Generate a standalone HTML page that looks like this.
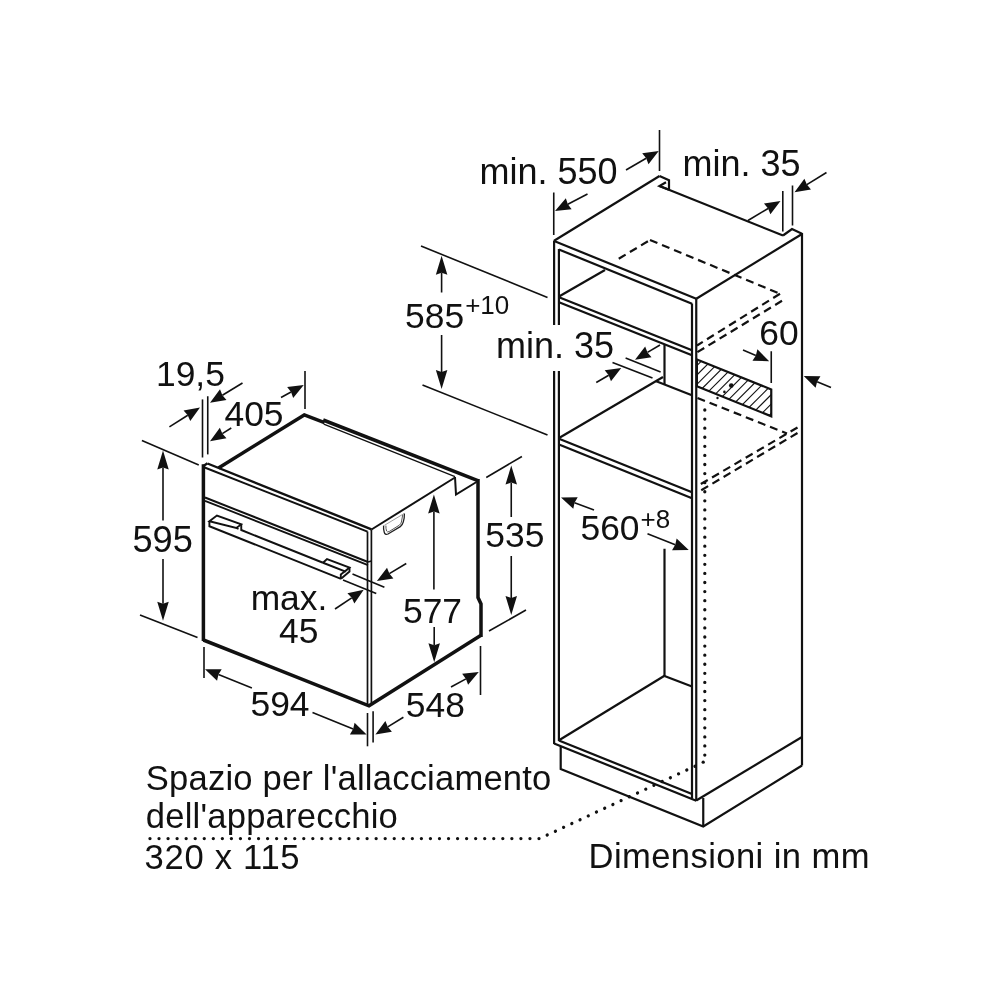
<!DOCTYPE html>
<html><head><meta charset="utf-8"><title>Dimensioni in mm</title>
<style>
html,body{margin:0;padding:0;background:#fff;}
body{width:1000px;height:1000px;overflow:hidden;}
svg{display:block;will-change:transform;}
svg text{font-family:"Liberation Sans",Arial,Helvetica,sans-serif;fill:#111;stroke:none;}
</style></head><body>
<svg width="1000" height="1000" viewBox="0 0 1000 1000" stroke="#111" fill="none" stroke-linecap="butt" stroke-linejoin="miter">
<rect x="0" y="0" width="1000" height="1000" fill="#fff" stroke="none"/>
<line x1="203.4" y1="464.3" x2="203.4" y2="641" stroke-width="3.5" />
<path d="M203.4 640 L369 705.8 L481 635.3" stroke-width="3.5" fill="none" />
<path d="M203.4 466 L207.5 463.3" stroke-width="2.4" fill="none" />
<line x1="207.5" y1="463.5" x2="371.5" y2="529.4" stroke-width="2.4" />
<line x1="204" y1="467.3" x2="367.5" y2="531.6" stroke-width="2.0" />
<line x1="367.5" y1="531.5" x2="367.5" y2="705" stroke-width="1.7" />
<line x1="371.4" y1="529.5" x2="371.4" y2="705" stroke-width="1.7" />
<line x1="218.5" y1="468" x2="305" y2="414.5" stroke-width="3.5" />
<line x1="303.6" y1="414.6" x2="324.5" y2="422.6" stroke-width="3.5" />
<line x1="323.2" y1="420" x2="478.5" y2="480.8" stroke-width="3.5" />
<line x1="323.75" y1="424.2" x2="455" y2="476.7" stroke-width="1.3" />
<line x1="371.5" y1="529.5" x2="455" y2="477.5" stroke-width="2.0" />
<path d="M455 477 L456 494.5 L476.5 482" stroke-width="2.0" fill="none" />
<path d="M478 479 L478 597.5 L481 604 L481 637" stroke-width="3.5" fill="none" />
<line x1="205" y1="497.5" x2="368" y2="562" stroke-width="2.0" />
<line x1="205" y1="500.8" x2="368" y2="565.2" stroke-width="1.8" />
<line x1="368" y1="562" x2="371.5" y2="561" stroke-width="1.6" />
<path d="M209.4 521.25 L216.9 515.6 L241.25 524.4 L236.25 528 Z" stroke-width="1.9" fill="none" />
<path d="M209.4 521.25 L209.4 526.25 L341 578.8" stroke-width="1.9" fill="none" />
<path d="M241.25 524.4 L241.25 530 L323 562.75" stroke-width="1.9" fill="none" />
<line x1="236.25" y1="528" x2="238.5" y2="529" stroke-width="1.9" />
<path d="M323 562.75 L327 559 L349.5 567.5 L345 571.3 L323 562.75" stroke-width="1.9" fill="none" />
<path d="M349.5 567.5 L349.5 571.5 L341 578.8" stroke-width="1.9" fill="none" />
<path d="M345 571.3 L340.8 574.5 L340.8 578.5" stroke-width="1.9" fill="none" />
<path d="M383.6 525.6 Q383.3 528.5 384.2 532 Q385 535.4 388 534 L400.3 526.6 Q402.4 525.3 403.2 522.2 Q404.6 517.5 404.4 513.5" stroke="#222" stroke-width="1.3" fill="none"/>
<path d="M385.9 525.6 Q385.8 529 386.6 531 Q387.3 532.6 389.2 531.5 L399.3 525.2 Q400.9 524.1 401.4 522 L402.7 515" stroke="#444" stroke-width="0.9" fill="none"/>
<path d="M384.3 525.4 L404 513.6" stroke="#888" stroke-width="0.8" fill="none"/>
<line x1="141.9" y1="440.6" x2="198.75" y2="465" stroke-width="1.6" />
<line x1="140" y1="615" x2="197.5" y2="637.5" stroke-width="1.6" />
<line x1="163" y1="520.5" x2="163.0" y2="467.6" stroke-width="1.6" />
<polygon points="163,450.6 168.75,469.6 163.0,467.6 157.25,469.6" fill="#111" stroke="none"/>
<line x1="163" y1="559" x2="163.0" y2="603.8" stroke-width="1.6" />
<polygon points="163,620.8 157.25,601.8 163.0,603.8 168.75,601.8" fill="#111" stroke="none"/>
<text x="162.6" y="552" font-size="36.2" text-anchor="middle" >595</text>
<line x1="202.5" y1="399.4" x2="202.5" y2="457.5" stroke-width="1.6" />
<line x1="207.75" y1="396.25" x2="207.75" y2="454.4" stroke-width="1.6" />
<line x1="169.4" y1="426.9" x2="187.75" y2="415.26" stroke-width="1.6" />
<polygon points="200,407.5 190.26,421.08 187.75,415.26 183.56,410.52" fill="#111" stroke="none"/>
<line x1="242.5" y1="383" x2="222.39" y2="395.22" stroke-width="1.6" />
<polygon points="210,402.75 220.0,389.36 222.39,395.22 226.49,400.04" fill="#111" stroke="none"/>
<text x="190.4" y="386" font-size="35.4" text-anchor="middle" >19,5</text>
<line x1="231.25" y1="428" x2="222.3" y2="433.58" stroke-width="1.6" />
<polygon points="210,441.25 219.85,427.75 222.3,433.58 226.46,438.35" fill="#111" stroke="none"/>
<line x1="281" y1="397.5" x2="291.04" y2="391.98" stroke-width="1.6" />
<polygon points="303.75,385 293.18,397.94 291.04,391.98 287.16,386.99" fill="#111" stroke="none"/>
<line x1="305" y1="371" x2="305" y2="409" stroke-width="1.6" />
<text x="254" y="426" font-size="35.4" text-anchor="middle" >405</text>
<line x1="204" y1="647" x2="204" y2="678" stroke-width="1.6" />
<line x1="251.9" y1="688" x2="218.46" y2="674.6" stroke-width="1.6" />
<polygon points="205,669.2 221.71,669.17 218.46,674.6 217.06,680.77" fill="#111" stroke="none"/>
<line x1="312.5" y1="712.5" x2="353.16" y2="728.96" stroke-width="1.6" />
<polygon points="366.6,734.4 349.89,734.38 353.16,728.96 354.58,722.79" fill="#111" stroke="none"/>
<text x="280" y="716" font-size="35.4" text-anchor="middle" >594</text>
<line x1="367.5" y1="713" x2="367.5" y2="746.3" stroke-width="1.6" />
<line x1="373.1" y1="711.3" x2="373.1" y2="742.5" stroke-width="1.6" />
<line x1="403.4" y1="717.3" x2="387.77" y2="726.84" stroke-width="1.6" />
<polygon points="375.4,734.4 385.37,720.99 387.77,726.84 391.89,731.66" fill="#111" stroke="none"/>
<line x1="451" y1="687" x2="465.99" y2="678.89" stroke-width="1.6" />
<polygon points="478.75,672 468.09,684.87 465.99,678.89 462.14,673.87" fill="#111" stroke="none"/>
<line x1="480.5" y1="646" x2="480.5" y2="695" stroke-width="1.6" />
<text x="435.3" y="716.8" font-size="35.4" text-anchor="middle" >548</text>
<line x1="433.9" y1="589.5" x2="433.9" y2="511.4" stroke-width="1.6" />
<polygon points="433.9,494.4 439.65,513.4 433.9,511.4 428.15,513.4" fill="#111" stroke="none"/>
<line x1="434.2" y1="627" x2="434.2" y2="645.3" stroke-width="1.6" />
<polygon points="434.2,662.3 428.45,643.3 434.2,645.3 439.95,643.3" fill="#111" stroke="none"/>
<text x="432.5" y="622.5" font-size="35.4" text-anchor="middle" >577</text>
<line x1="511.25" y1="517" x2="511.25" y2="482.6" stroke-width="1.6" />
<polygon points="511.25,465.6 517.0,484.6 511.25,482.6 505.5,484.6" fill="#111" stroke="none"/>
<line x1="511.25" y1="556" x2="511.25" y2="598.0" stroke-width="1.6" />
<polygon points="511.25,615 505.5,596.0 511.25,598.0 517.0,596.0" fill="#111" stroke="none"/>
<text x="514.8" y="547.3" font-size="35.4" text-anchor="middle" >535</text>
<line x1="486.25" y1="477.5" x2="521.9" y2="456.5" stroke-width="1.6" />
<line x1="489" y1="631" x2="526" y2="610" stroke-width="1.6" />
<text x="289" y="610" font-size="35.4" text-anchor="middle" >max.</text>
<text x="298.8" y="643.3" font-size="35.4" text-anchor="middle" >45</text>
<line x1="352.5" y1="574" x2="384.4" y2="587.25" stroke-width="1.6" />
<line x1="343" y1="580" x2="376.25" y2="593.5" stroke-width="1.6" />
<line x1="406.25" y1="563.5" x2="389.35" y2="573.57" stroke-width="1.6" />
<polygon points="376.9,581 387.01,567.69 389.35,573.57 393.41,578.43" fill="#111" stroke="none"/>
<line x1="335" y1="609" x2="351.7" y2="597.82" stroke-width="1.6" />
<polygon points="363.75,589.75 354.35,603.57 351.7,597.82 347.39,593.18" fill="#111" stroke="none"/>
<line x1="554.1" y1="240.5" x2="554.1" y2="325" stroke-width="2.2" />
<line x1="554.1" y1="371" x2="554.1" y2="744" stroke-width="2.2" />
<line x1="558.9" y1="249" x2="558.9" y2="325" stroke-width="2.2" />
<line x1="558.9" y1="371" x2="558.9" y2="741" stroke-width="2.2" />
<line x1="553.75" y1="192.5" x2="553.75" y2="235" stroke-width="1.6" />
<line x1="554.1" y1="240.8" x2="659.5" y2="176" stroke-width="2.2" />
<path d="M659.5 176 L669 180.3 L669 189.5" stroke-width="2.2" fill="none" />
<path d="M669 189.7 L659.5 186 L666 182.3" stroke-width="2.2" fill="none" />
<line x1="659.5" y1="186" x2="783" y2="235.5" stroke-width="2.2" />
<path d="M783 235.5 L792 229 L802 233.7" stroke-width="2.2" fill="none" />
<line x1="802" y1="233" x2="802" y2="765.5" stroke-width="2.2" />
<line x1="554.1" y1="241" x2="696.25" y2="298.75" stroke-width="2.2" />
<line x1="558.9" y1="249.5" x2="692" y2="303.75" stroke-width="2.2" />
<line x1="696.25" y1="298.75" x2="802" y2="234" stroke-width="2.2" />
<line x1="692" y1="303.5" x2="692" y2="798.5" stroke-width="2.2" />
<line x1="696.25" y1="298.75" x2="696.25" y2="801" stroke-width="2.2" />
<line x1="559" y1="296.5" x2="605" y2="270" stroke-width="2.2" />
<line x1="559" y1="297.2" x2="692" y2="350.3" stroke-width="2.2" />
<line x1="559" y1="302.3" x2="692" y2="355.2" stroke-width="2.2" />
<line x1="618.75" y1="258.75" x2="650" y2="240" stroke-width="2.2" stroke-dasharray="8 5"/>
<line x1="650" y1="240" x2="780" y2="293.75" stroke-width="2.2" stroke-dasharray="8 5"/>
<line x1="780" y1="293.75" x2="697" y2="345.5" stroke-width="2.2" stroke-dasharray="8 5"/>
<line x1="782" y1="300.8" x2="697" y2="352.4" stroke-width="2.2" stroke-dasharray="8 5"/>
<line x1="559" y1="438" x2="663" y2="377" stroke-width="2.2" />
<line x1="664.5" y1="345" x2="664.5" y2="384" stroke-width="2.2" />
<line x1="656.25" y1="381.25" x2="691.25" y2="395" stroke-width="2.2" />
<line x1="559" y1="438.75" x2="692" y2="492.3" stroke-width="2.2" />
<line x1="559" y1="444.6" x2="692" y2="498.2" stroke-width="2.2" />
<line x1="664.5" y1="548.75" x2="664.5" y2="676" stroke-width="2.2" />
<line x1="664.5" y1="675.8" x2="559" y2="740.3" stroke-width="2.2" />
<line x1="664.5" y1="676" x2="692" y2="686.5" stroke-width="2.2" />
<line x1="554.1" y1="743.4" x2="696.25" y2="800.8" stroke-width="2.2" />
<line x1="558.9" y1="740.5" x2="692" y2="794" stroke-width="2.2" />
<line x1="696.25" y1="800.5" x2="802" y2="737" stroke-width="2.2" />
<path d="M560.7 746.5 L560.7 769 L703.25 826.5 L802 765.5" stroke-width="2.2" fill="none" />
<line x1="703.25" y1="798" x2="703.25" y2="826.5" stroke-width="2.2" />
<defs><clipPath id="hc"><polygon points="696.9,359.4 771.25,389.4 771.25,416.25 696.9,386.25"/></clipPath></defs>
<g clip-path="url(#hc)" stroke-width="1.1"><line x1="548.45" y1="420" x2="618.45" y2="350"/><line x1="557.85" y1="420" x2="627.85" y2="350"/><line x1="567.25" y1="420" x2="637.25" y2="350"/><line x1="576.6500000000001" y1="420" x2="646.6500000000001" y2="350"/><line x1="586.0500000000001" y1="420" x2="656.0500000000001" y2="350"/><line x1="595.45" y1="420" x2="665.45" y2="350"/><line x1="604.85" y1="420" x2="674.85" y2="350"/><line x1="614.25" y1="420" x2="684.25" y2="350"/><line x1="623.6500000000001" y1="420" x2="693.6500000000001" y2="350"/><line x1="633.0500000000001" y1="420" x2="703.0500000000001" y2="350"/><line x1="642.45" y1="420" x2="712.45" y2="350"/><line x1="651.85" y1="420" x2="721.85" y2="350"/><line x1="661.25" y1="420" x2="731.25" y2="350"/><line x1="670.6500000000001" y1="420" x2="740.6500000000001" y2="350"/><line x1="680.0500000000001" y1="420" x2="750.0500000000001" y2="350"/><line x1="689.45" y1="420" x2="759.45" y2="350"/><line x1="698.85" y1="420" x2="768.85" y2="350"/><line x1="708.25" y1="420" x2="778.25" y2="350"/><line x1="717.6500000000001" y1="420" x2="787.6500000000001" y2="350"/><line x1="727.0500000000001" y1="420" x2="797.0500000000001" y2="350"/><line x1="736.45" y1="420" x2="806.45" y2="350"/><line x1="745.85" y1="420" x2="815.85" y2="350"/><line x1="755.25" y1="420" x2="825.25" y2="350"/><line x1="764.6500000000001" y1="420" x2="834.6500000000001" y2="350"/><line x1="774.0500000000001" y1="420" x2="844.0500000000001" y2="350"/><line x1="783.45" y1="420" x2="853.45" y2="350"/><line x1="792.85" y1="420" x2="862.85" y2="350"/><line x1="802.25" y1="420" x2="872.25" y2="350"/><line x1="811.6500000000001" y1="420" x2="881.6500000000001" y2="350"/><line x1="821.0500000000001" y1="420" x2="891.0500000000001" y2="350"/><line x1="830.45" y1="420" x2="900.45" y2="350"/><line x1="839.85" y1="420" x2="909.85" y2="350"/><line x1="849.25" y1="420" x2="919.25" y2="350"/><line x1="858.6500000000001" y1="420" x2="928.6500000000001" y2="350"/><line x1="868.0500000000001" y1="420" x2="938.0500000000001" y2="350"/><line x1="877.45" y1="420" x2="947.45" y2="350"/><line x1="886.85" y1="420" x2="956.85" y2="350"/><line x1="896.25" y1="420" x2="966.25" y2="350"/><line x1="905.6500000000001" y1="420" x2="975.6500000000001" y2="350"/><line x1="915.0500000000001" y1="420" x2="985.0500000000001" y2="350"/></g>
<path d="M696.9 359.4 L771.25 389.4 L771.25 416.25 L696.9 386.25 Z" stroke-width="2.2" fill="none" />
<circle cx="731.25" cy="385.6" r="2.3" fill="#111" stroke="none"/>
<circle cx="724.4" cy="391.9" r="1.3" fill="#111" stroke="none"/>
<circle cx="717.5" cy="398" r="1.2" fill="#111" stroke="none"/>
<line x1="697.5" y1="398" x2="787" y2="433.5" stroke-width="2.2" stroke-dasharray="8 5"/>
<line x1="797.5" y1="427.5" x2="697.5" y2="486" stroke-width="2.2" stroke-dasharray="8 5"/>
<line x1="797.5" y1="433" x2="697.5" y2="492.5" stroke-width="2.2" stroke-dasharray="8 5"/>
<path d="M704.8 410 L704.8 755.5" stroke-width="3.3" stroke-linecap="round" fill="none" stroke-dasharray="0.01 9.07"/>
<path d="M703.2 762.2 L703.21 762.2" stroke-width="3.3" stroke-linecap="round" fill="none"/>
<path d="M695 766.2 L546.5 835.33" stroke-width="3.3" stroke-linecap="round" fill="none" stroke-dasharray="0.01 9.047"/>
<path d="M539 838.6 L149.0 838.6" stroke-width="3.3" stroke-linecap="round" fill="none" stroke-dasharray="0.01 9.037"/>
<line x1="771.25" y1="351.25" x2="771.25" y2="383" stroke-width="1.6" />
<line x1="743" y1="350" x2="755.87" y2="355.5" stroke-width="1.6" />
<polygon points="769.2,361.2 752.49,360.85 755.87,355.5 757.4,349.36" fill="#111" stroke="none"/>
<text x="779" y="345" font-size="35.4" text-anchor="middle" >60</text>
<line x1="831" y1="387.5" x2="817.11" y2="381.64" stroke-width="1.6" />
<polygon points="803.75,376 820.46,376.27 817.11,381.64 815.6,387.78" fill="#111" stroke="none"/>
<line x1="596.25" y1="382.5" x2="608.71" y2="375.27" stroke-width="1.6" />
<polygon points="621.25,368 610.98,381.18 608.71,375.27 604.71,370.37" fill="#111" stroke="none"/>
<line x1="660" y1="345" x2="647.49" y2="352.38" stroke-width="1.6" />
<polygon points="635,359.75 645.17,346.49 647.49,352.38 651.53,357.26" fill="#111" stroke="none"/>
<line x1="612.5" y1="362.5" x2="652.5" y2="378" stroke-width="1.6" />
<line x1="625.6" y1="358" x2="660.6" y2="372" stroke-width="1.6" />
<text x="555" y="357.6" font-size="36" text-anchor="middle" >min. 35</text>
<line x1="594" y1="510" x2="574.56" y2="502.64" stroke-width="1.6" />
<polygon points="561,497.5 577.71,497.15 574.56,502.64 573.28,508.84" fill="#111" stroke="none"/>
<line x1="647.5" y1="533.75" x2="675.26" y2="544.69" stroke-width="1.6" />
<polygon points="688.75,550 672.04,550.13 675.26,544.69 676.62,538.5" fill="#111" stroke="none"/>
<text x="610" y="540" font-size="35.4" text-anchor="middle" >560</text>
<text x="640.5" y="527.6" font-size="26" text-anchor="start" >+8</text>
<line x1="421" y1="246" x2="547.5" y2="297.5" stroke-width="1.6" />
<line x1="422.5" y1="385" x2="547.5" y2="435" stroke-width="1.6" />
<line x1="441.6" y1="292.5" x2="441.6" y2="272.8" stroke-width="1.6" />
<polygon points="441.6,255.8 447.35,274.8 441.6,272.8 435.85,274.8" fill="#111" stroke="none"/>
<line x1="441.6" y1="335" x2="441.6" y2="372.0" stroke-width="1.6" />
<polygon points="441.6,389 435.85,370.0 441.6,372.0 447.35,370.0" fill="#111" stroke="none"/>
<text x="434.6" y="327.5" font-size="35.4" text-anchor="middle" >585</text>
<text x="465.2" y="313.8" font-size="26" text-anchor="start" >+10</text>
<text x="548.6" y="183.6" font-size="36" text-anchor="middle" >min. 550</text>
<line x1="587.5" y1="194" x2="567.85" y2="204.28" stroke-width="1.6" />
<polygon points="555,211 565.84,198.28 567.85,204.28 571.63,209.35" fill="#111" stroke="none"/>
<line x1="626" y1="170" x2="646.21" y2="158.28" stroke-width="1.6" />
<polygon points="658.75,151 648.48,164.18 646.21,158.28 642.21,153.37" fill="#111" stroke="none"/>
<line x1="659.5" y1="130" x2="659.5" y2="171" stroke-width="1.6" />
<text x="741.5" y="176" font-size="36" text-anchor="middle" >min. 35</text>
<line x1="748" y1="220.5" x2="768.07" y2="208.46" stroke-width="1.6" />
<polygon points="780.5,201 770.42,214.33 768.07,208.46 763.99,203.62" fill="#111" stroke="none"/>
<line x1="826.5" y1="172.5" x2="806.85" y2="184.6" stroke-width="1.6" />
<polygon points="794.5,192.2 804.42,178.75 806.85,184.6 810.98,189.4" fill="#111" stroke="none"/>
<line x1="782.8" y1="191" x2="782.8" y2="231.5" stroke-width="1.6" />
<line x1="792.5" y1="185.5" x2="792.5" y2="225.5" stroke-width="1.6" />
<text x="145.8" y="789.6" font-size="34.6" text-anchor="start" textLength="405.5">Spazio per l'allacciamento</text>
<text x="145.8" y="827.8" font-size="34.6" text-anchor="start" textLength="252">dell'apparecchio</text>
<text x="144.6" y="868.6" font-size="34.6" text-anchor="start" textLength="155">320 x 115</text>
<text x="588.5" y="867.8" font-size="34.6" text-anchor="start" textLength="281">Dimensioni in mm</text>
</svg>
</body></html>
